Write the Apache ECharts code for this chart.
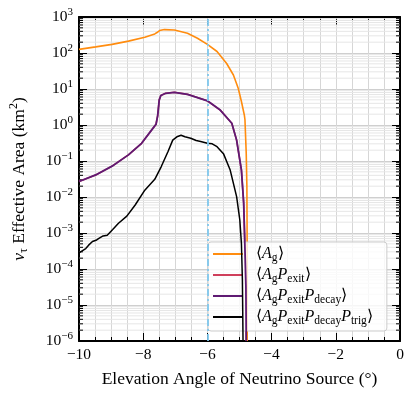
<!DOCTYPE html>
<html>
<head>
<meta charset="utf-8">
<script src="https://cdn.jsdelivr.net/npm/echarts@6/dist/echarts.min.js"></script>
<style>
  html, body { margin: 0; padding: 0; background: #fff; }
  #chart { width: 415px; height: 397px; }
</style>
</head>
<body>
<div id="chart"></div>
<script>
// --- 数据 ---
const agX = [-10, -9.48, -8.97, -8.46, -7.95, -7.64, -7.57, -7.49, -7.34, -7.03, -6.62, -6.31, -6.0, -5.70, -5.40, -5.19, -5.04, -4.94, -4.85, -4.83, -4.79, -4.77, -4.76, -4.76];
const agY = [126, 148, 174, 214, 275, 339, 370, 420, 447, 437, 355, 257, 174, 110, 51, 24.5, 10.5, 4.5, 1.9, 1.4, 0.16, 0.0195, 3e-4, 1e-6];

const exitX = [-10, -9.48, -8.97, -8.46, -8.05, -7.74, -7.60, -7.55, -7.50, -7.45, -7.30, -7.03, -6.62, -6.0, -5.60, -5.24, -5.09, -4.94, -4.87, -4.84, -4.80, -4.79];
const exitY = [0.027, 0.041, 0.072, 0.148, 0.31, 0.72, 1.05, 1.8, 5.0, 6.6, 7.6, 8.1, 7.1, 4.7, 2.6, 1.12, 0.38, 0.056, 0.0068, 7.9e-4, 3.2e-5, 1e-6];

const decayX = exitX;
const decayY = exitY;

const trigX = [-10, -9.95, -9.79, -9.70, -9.58, -9.45, -9.38, -9.25, -9.12, -8.95, -8.77, -8.51, -8.25, -7.95, -7.64, -7.44, -7.23, -7.08, -6.95, -6.82, -6.70, -6.52, -6.35, -6.21, -6.0, -5.85, -5.70, -5.50, -5.29, -5.09, -4.99, -4.94, -4.91, -4.89];
const trigY = [2.8e-4, 2.9e-4, 3.7e-4, 4.6e-4, 5.8e-4, 6.4e-4, 7.1e-4, 8.3e-4, 8.7e-4, 1.25e-3, 1.86e-3, 2.95e-3, 6.0e-3, 0.0155, 0.031, 0.069, 0.18, 0.38, 0.47, 0.52, 0.47, 0.43, 0.37, 0.35, 0.31, 0.30, 0.25, 0.16, 0.056, 0.0102, 2.3e-3, 5.1e-4, 5e-5, 1e-6];

const refAngle = -6;
const decadeExps = [-6, -5, -4, -3, -2, -1, 0, 1, 2];
const minorFactors = [2, 3, 4, 5, 6, 7, 8, 9];

const C = { ag: '#FF8C0F', exit: '#CF3F5B', decay: '#5F1A73', trig: '#000000', ref: '#80C8EE' };
const FONT = 'Liberation Serif';

const pairs = (xs, ys) => xs.map((x, i) => [x, ys[i]]);
const minorVals = [];
decadeExps.forEach(e => minorFactors.forEach(k => minorVals.push([-10, k * Math.pow(10, e)])));

const fmtExp = v => {
  const e = Math.round(Math.log10(v));
  return '{b|10}{s|' + (e < 0 ? '\u2212' + (-e) : e) + '}';
};

const legendNames = {
  'Ag': '{n|\u27E8}{i|A}{sub|g}{n|\u27E9}',
  'AgPexit': '{n|\u27E8}{i|A}{sub|g}{i|P}{sub|exit}{n|\u27E9}',
  'AgPexitPdecay': '{n|\u27E8}{i|A}{sub|g}{i|P}{sub|exit}{i|P}{sub|decay}{n|\u27E9}',
  'AgPexitPdecayPtrig': '{n|\u27E8}{i|A}{sub|g}{i|P}{sub|exit}{i|P}{sub|decay}{i|P}{sub|trig}{n|\u27E9}',
};

const richText = {
  n: { fontFamily: FONT, fontSize: 16, lineHeight: 20, verticalAlign: 'middle', color: '#000' },
  i: { fontFamily: FONT, fontSize: 16, fontStyle: 'italic', lineHeight: 20, verticalAlign: 'middle', color: '#000' },
  sub: { fontFamily: FONT, fontSize: 11.5, lineHeight: 13, verticalAlign: 'bottom', color: '#000' },
};

const chart = echarts.init(document.getElementById('chart'));

const tickSide = { show: true, inside: true, length: 8, lineStyle: { color: '#000', width: 1 } };
const minorSide = { show: true, length: 4, splitNumber: 4, lineStyle: { color: '#000', width: 1 } };

chart.setOption({
  animation: false,
  grid: { left: 73, right: 15, top: 17, bottom: 56 },
  legend: {
    data: ['Ag', 'AgPexit', 'AgPexitPdecay', 'AgPexitPdecayPtrig'],
    orient: 'vertical', left: 208, top: 242,
    icon: 'rect', itemWidth: 30, itemHeight: 2, itemGap: 3,
    padding: [4, 14, 4, 5],
    backgroundColor: 'rgba(255,255,255,0.8)', borderColor: '#cccccc', borderWidth: 1, borderRadius: 3,
    formatter: name => legendNames[name],
    textStyle: { rich: richText, fontFamily: FONT, fontSize: 16, color: '#000', padding: [0, 0, 0, 8] },
  },
  xAxis: [
    {
      type: 'value', min: -10, max: 0, interval: 2, position: 'bottom',
      name: 'Elevation Angle of Neutrino Source (\u00B0)', nameLocation: 'middle', nameGap: 29,
      nameTextStyle: { fontFamily: FONT, fontSize: 17.5, color: '#000' },
      axisLine: { show: true, onZero: false, lineStyle: { color: '#000', width: 2 } },
      axisTick: tickSide, minorTick: minorSide,
      axisLabel: { fontFamily: FONT, fontSize: 15.5, color: '#000', margin: 6, formatter: v => (v < 0 ? '\u2212' + (-v) : '' + v) },
      splitLine: { show: true, lineStyle: { color: '#d6d6d6', width: 1 } },
      minorSplitLine: { show: true, lineStyle: { color: '#d6d6d6', width: 1 } },
    },
    {
      type: 'value', min: -10, max: 0, interval: 2, position: 'top',
      axisLine: { show: true, onZero: false, lineStyle: { color: '#000', width: 2 } },
      axisTick: tickSide, minorTick: minorSide,
      axisLabel: { show: false }, splitLine: { show: false },
    },
  ],
  yAxis: [
    {
      type: 'log', logBase: 10, min: 1e-6, max: 1e3, interval: 1, position: 'left',
      name: '{i|\u03BD}{sub|\u03C4}{n| Effective Area (km}{sup|2}{n|)}', nameLocation: 'middle', nameGap: 49, nameRotate: 90,
      nameTextStyle: {
        color: '#000', fontFamily: FONT, fontSize: 17.5,
        rich: {
          n: { fontFamily: FONT, fontSize: 17.5, lineHeight: 22, verticalAlign: 'middle' },
          i: { fontFamily: FONT, fontSize: 17.5, fontStyle: 'italic', lineHeight: 22, verticalAlign: 'middle' },
          sub: { fontFamily: FONT, fontSize: 12, lineHeight: 13, verticalAlign: 'bottom' },
          sup: { fontFamily: FONT, fontSize: 12, lineHeight: 12, verticalAlign: 'top' },
        },
      },
      axisLine: { show: true, onZero: false, lineStyle: { color: '#000', width: 2 } },
      axisTick: tickSide,
      axisLabel: {
        color: '#000', margin: 6, formatter: fmtExp,
        rich: {
          b: { fontFamily: FONT, fontSize: 15.5, lineHeight: 20, verticalAlign: 'middle' },
          s: { fontFamily: FONT, fontSize: 11, lineHeight: 10, verticalAlign: 'top' },
        },
      },
      splitLine: { show: true, lineStyle: { color: '#cfcfcf', width: 1 } },
    },
    {
      type: 'log', logBase: 10, min: 1e-6, max: 1e3, interval: 1, position: 'right',
      axisLine: { show: true, onZero: false, lineStyle: { color: '#000', width: 2 } },
      axisTick: tickSide,
      axisLabel: { show: false }, splitLine: { show: false },
    },
  ],
  series: [
    {
      // 对数次刻度 + 次网格
      type: 'custom', name: 'minor', silent: true, z: 1, data: minorVals, clip: false,
      renderItem: (params, api) => {
        const v = api.value(1);
        const a = api.coord([-10, v]), b = api.coord([0, v]);
        return {
          type: 'group', children: [
            { type: 'line', shape: { x1: a[0], y1: a[1], x2: b[0], y2: b[1] }, style: { stroke: '#e6e6e6', lineWidth: 1 } },
            { type: 'line', shape: { x1: a[0], y1: a[1], x2: a[0] + 4, y2: a[1] }, style: { stroke: '#000', lineWidth: 1 } },
            { type: 'line', shape: { x1: b[0] - 4, y1: b[1], x2: b[0], y2: b[1] }, style: { stroke: '#000', lineWidth: 1 } },
          ],
        };
      },
    },
    { name: 'Ag', type: 'line', data: pairs(agX, agY), symbol: 'none', z: 3, lineStyle: { color: C.ag, width: 1.6 }, itemStyle: { color: C.ag } },
    { name: 'AgPexit', type: 'line', data: pairs(exitX, exitY), symbol: 'none', z: 3, lineStyle: { color: C.exit, width: 1.6 }, itemStyle: { color: C.exit } },
    { name: 'AgPexitPdecay', type: 'line', data: pairs(decayX, decayY), symbol: 'none', z: 4, lineStyle: { color: C.decay, width: 1.8 }, itemStyle: { color: C.decay } },
    { name: 'AgPexitPdecayPtrig', type: 'line', data: pairs(trigX, trigY), symbol: 'none', z: 4, lineStyle: { color: C.trig, width: 1.5 }, itemStyle: { color: C.trig } },
    {
      name: 'ref', type: 'line', data: [], z: 5,
      markLine: {
        silent: true, symbol: 'none', label: { show: false },
        lineStyle: { color: C.ref, width: 1.8, type: [7, 3, 2, 3] },
        data: [{ xAxis: refAngle }],
      },
    },
  ],
});
</script>
</body>
</html>
